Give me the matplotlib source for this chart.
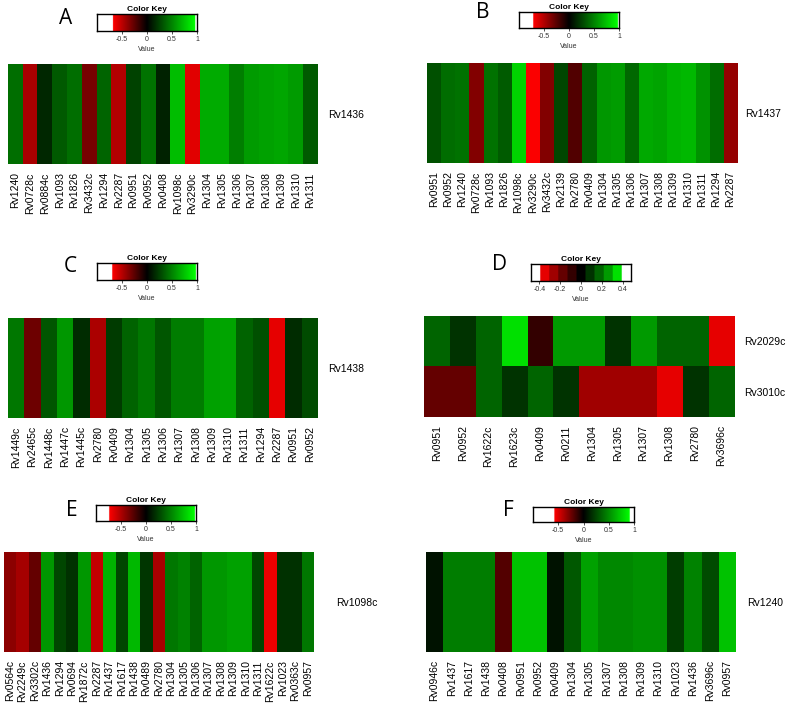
import numpy as np
import matplotlib
matplotlib.use("Agg")
import matplotlib.pyplot as plt
from matplotlib.colors import LinearSegmentedColormap, ListedColormap, BoundaryNorm, Normalize

plt.rcParams["font.family"] = ["Liberation Sans", "DejaVu Sans"]

W, H = 787, 705

# panel A: Rv1436
a_cols = ["Rv1240", "Rv0728c", "Rv0884c", "Rv1093", "Rv1826", "Rv3432c", "Rv1294", "Rv2287",
          "Rv0951", "Rv0952", "Rv0408", "Rv1098c", "Rv3290c", "Rv1304", "Rv1305", "Rv1306",
          "Rv1307", "Rv1308", "Rv1309", "Rv1310", "Rv1311"]
a_vals = [0.42, -0.45, 0.15, 0.34, 0.42, -0.32, 0.38, -0.48, 0.25, 0.44, 0.13, 0.72, -0.60,
          0.65, 0.65, 0.48, 0.59, 0.61, 0.63, 0.59, 0.34]

# panel B: Rv1437
b_cols = ["Rv0951", "Rv0952", "Rv1240", "Rv0728c", "Rv1093", "Rv1826", "Rv1098c", "Rv3290c",
          "Rv3432c", "Rv2139", "Rv2780", "Rv0409", "Rv1304", "Rv1305", "Rv1306", "Rv1307",
          "Rv1308", "Rv1309", "Rv1310", "Rv1311", "Rv1294", "Rv2287"]
b_vals = [0.31, 0.42, 0.44, -0.37, 0.44, 0.35, 0.81, -0.71, -0.37, 0.27, -0.23, 0.38, 0.58,
          0.60, 0.40, 0.65, 0.63, 0.69, 0.71, 0.56, 0.42, -0.42]

# panel C: Rv1438
c_cols = ["Rv1449c", "Rv2465c", "Rv1448c", "Rv1447c", "Rv1445c", "Rv2780", "Rv0409", "Rv1304",
          "Rv1305", "Rv1306", "Rv1307", "Rv1308", "Rv1309", "Rv1310", "Rv1311", "Rv1294",
          "Rv2287", "Rv0951", "Rv0952"]
c_vals = [0.46, -0.30, 0.33, 0.58, 0.17, -0.47, 0.23, 0.38, 0.46, 0.33, 0.48, 0.48, 0.62,
          0.63, 0.38, 0.31, -0.63, 0.17, 0.29]

# panel D: Rv2029c / Rv3010c
d_cols = ["Rv0951", "Rv0952", "Rv1622c", "Rv1623c", "Rv0409", "Rv0211", "Rv1304", "Rv1305",
          "Rv1307", "Rv1308", "Rv2780", "Rv3696c"]
d_rows = ["Rv2029c", "Rv3010c"]
d_rv2029c = [0.17, 0.09, 0.17, 0.35, -0.09, 0.26, 0.26, 0.09, 0.26, 0.17, 0.17, -0.35]
d_rv3010c = [-0.17, -0.17, 0.17, 0.09, 0.17, 0.09, -0.26, -0.26, -0.26, -0.35, 0.09, 0.17]

# panel E: Rv1098c
e_cols = ["Rv0564c", "Rv2249c", "Rv3302c", "Rv1436", "Rv1294", "Rv0694", "Rv1872c", "Rv2287",
          "Rv1437", "Rv1617", "Rv1438", "Rv0489", "Rv2780", "Rv1304", "Rv1305", "Rv1306",
          "Rv1307", "Rv1308", "Rv1309", "Rv1310", "Rv1311", "Rv1622c", "Rv1023", "Rv0363c",
          "Rv0957"]
e_vals = [-0.41, -0.48, -0.29, 0.58, 0.27, 0.19, 0.58, -0.57, 0.69, 0.27, 0.71, 0.21, -0.49,
          0.46, 0.50, 0.38, 0.58, 0.58, 0.62, 0.62, 0.27, -0.68, 0.19, 0.19, 0.46]

# panel F: Rv1240
f_cols = ["Rv0946c", "Rv1437", "Rv1617", "Rv1438", "Rv0408", "Rv0951", "Rv0952", "Rv0409",
          "Rv1304", "Rv1305", "Rv1307", "Rv1308", "Rv1309", "Rv1310", "Rv1023", "Rv1436",
          "Rv3696c", "Rv0957"]
f_vals = [0.07, 0.45, 0.45, 0.45, -0.19, 0.70, 0.70, 0.07, 0.32, 0.58, 0.49, 0.49, 0.52,
          0.52, 0.22, 0.47, 0.27, 0.70]


def rect(x0, y0, x1, y1):
    return [x0 / W, 1 - y1 / H, (x1 - x0) / W, (y1 - y0) / H]


def redgreen(lo, hi):
    # white outside the data range, red -> black -> green inside
    p_lo, p_hi = (lo + 1) / 2, (hi + 1) / 2
    return LinearSegmentedColormap.from_list("rg", [
        (0, "white"), (p_lo - 0.001, "white"), (p_lo, "#ff0000"), (0.5, "black"),
        (p_hi, "#00ff00"), (p_hi + 0.001, "white"), (1, "white")], N=512)


def draw_key(box, cmap, norm, lim, ticks, ticklabels):
    ax = fig.add_axes(rect(*box))
    grad = np.linspace(lim[0], lim[1], 400)[None, :]
    ax.imshow(grad, cmap=cmap, norm=norm, aspect="auto", extent=[lim[0], lim[1], 0, 1])
    ax.set_xlim(lim)
    ax.set_yticks([])
    ax.set_xticks(ticks)
    ax.set_xticklabels(ticklabels, fontsize=5, color="#333333")
    ax.tick_params(axis="x", length=2, width=0.6, pad=1.5, colors="#333333")
    for s in ax.spines.values():
        s.set_linewidth(1.0)
    ax.set_title("Color Key", fontsize=6, fontweight="bold", pad=2.5)
    ax.set_xlabel("Value", fontsize=5, labelpad=2, color="#333333")


def draw_heat(box, data, cmap, norm, cols, rows, row_pad):
    ax = fig.add_axes(rect(*box))
    ax.imshow(np.array(data), cmap=cmap, norm=norm, aspect="auto", interpolation="nearest")
    ax.set_xticks(range(len(cols)))
    ax.set_xticklabels(cols, rotation=90, fontsize=7.5)
    ax.tick_params(axis="x", length=0, pad=6)
    ax.yaxis.tick_right()
    ax.set_yticks(range(len(rows)))
    ax.set_yticklabels(rows, fontsize=7.5)
    ax.tick_params(axis="y", length=0, pad=row_pad)
    for s in ax.spines.values():
        s.set_visible(False)


fig = plt.figure(figsize=(W / 100, H / 100), dpi=100)

key_ticks = [-0.5, 0, 0.5, 1]
key_labels = ["-0.5", "0", "0.5", "1"]
norm1 = Normalize(-1, 1)

panels = [
    ("A", (66, 19), (97, 14, 197, 31), (8, 64, 318, 164), [a_vals], a_cols, ["Rv1436"], -0.68, 0.97, 7),
    ("B", (483, 12), (519, 12, 619, 28), (427, 63, 737, 163), [b_vals], b_cols, ["Rv1437"], -0.72, 0.98, 6),
    ("C", (70, 266), (97, 263, 197, 280), (8, 318, 318, 418), [c_vals], c_cols, ["Rv1438"], -0.70, 0.98, 7),
    ("E", (72, 511), (96, 505, 196, 521), (4, 552, 314, 652), [e_vals], e_cols, ["Rv1098c"], -0.74, 0.98, 16),
    ("F", (508, 511), (533, 507, 634, 522), (426, 552, 736, 652), [f_vals], f_cols, ["Rv1240"], -0.58, 0.92, 8),
]

for letter, lpos, kbox, hbox, data, cols, rows, lo, hi, rpad in panels:
    cmap = redgreen(lo, hi)
    draw_key(kbox, cmap, norm1, (-1, 1), key_ticks, key_labels)
    draw_heat(hbox, data, cmap, norm1, cols, rows, rpad)
    fig.text(lpos[0] / W, 1 - lpos[1] / H, letter, fontsize=15, ha="center", va="center",
             family=["Open Sans", "DejaVu Sans"])

# panel D uses a binned key
d_colors = ["white", "#e60000", "#a00000", "#640000", "#330000", "black",
            "#003300", "#006400", "#009a00", "#00e000", "white"]
d_cmap = ListedColormap(d_colors)
d_bounds = np.linspace(-0.48, 0.48, 12)
d_norm = BoundaryNorm(d_bounds, d_cmap.N)
draw_key((531, 264, 631, 281), d_cmap, d_norm, (-0.48, 0.48),
         [-0.4, -0.2, 0, 0.2, 0.4], ["-0.4", "-0.2", "0", "0.2", "0.4"])
draw_heat((424, 316, 734, 417), [d_rv2029c, d_rv3010c], d_cmap, d_norm, d_cols, d_rows, 7)
fig.text(499 / W, 1 - 264 / H, "D", fontsize=15, ha="center", va="center",
         family=["Open Sans", "DejaVu Sans"])

fig.savefig("out.png", dpi=100)
